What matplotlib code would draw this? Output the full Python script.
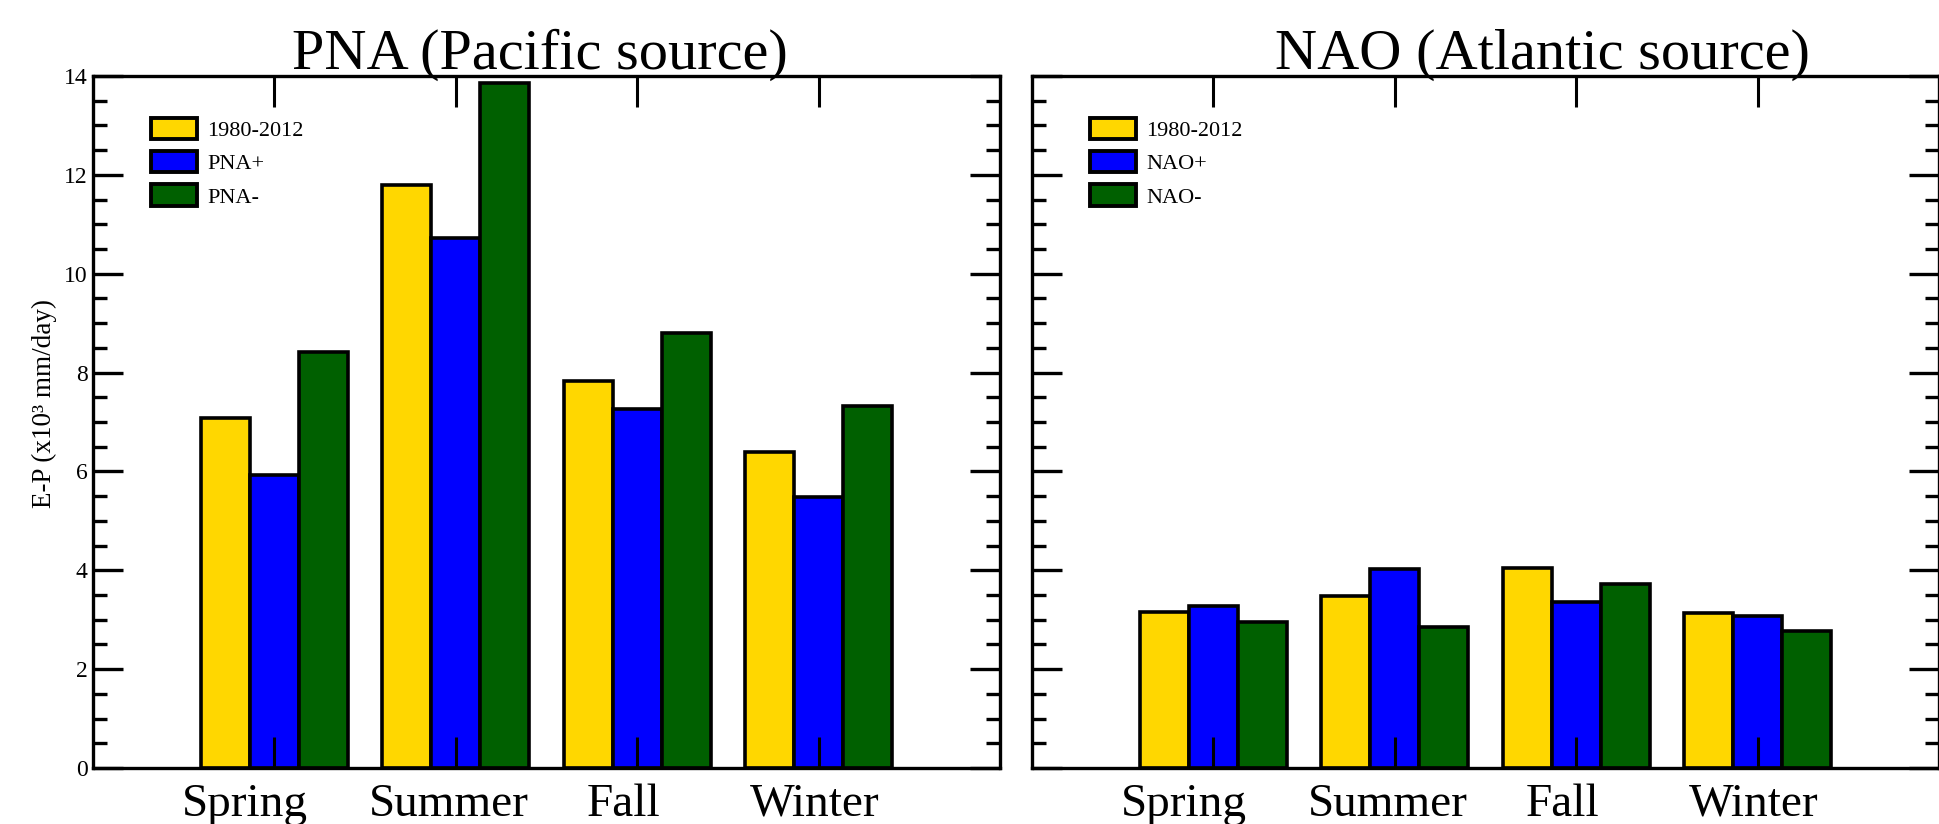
import numpy as np
import matplotlib
matplotlib.use("Agg")
import matplotlib.pyplot as plt
import matplotlib.transforms as mtransforms
from matplotlib.ticker import MultipleLocator

plt.rcParams["font.family"] = ["Liberation Serif", "DejaVu Serif"]

seasons = ["Spring", "Summer", "Fall", "Winter"]

# E-P (x10^3 mm/day)
pna_clim = [7.08, 11.80, 7.82, 6.39]
pna_pos = [5.93, 10.73, 7.27, 5.49]
pna_neg = [8.41, 13.86, 8.80, 7.33]

nao_clim = [3.15, 3.48, 4.04, 3.14]
nao_pos = [3.27, 4.02, 3.35, 3.08]
nao_neg = [2.96, 2.86, 3.72, 2.78]

pna_labels = ["1980-2012", "PNA+", "PNA-"]
nao_labels = ["1980-2012", "NAO+", "NAO-"]

colors = ["#FFD700", "#0000FF", "#006000"]

# season labels in the original sit a little left of their ticks (points)
label_shift = [-21, -5, -10, -3]


def draw_panel(ax, series, labels, title, title_x, show_ylabels):
    x = np.arange(1, len(seasons) + 1)
    w = 0.27
    for i, (vals, lab, c) in enumerate(zip(series, labels, colors)):
        ax.bar(x + (i - 1) * w, vals, w, color=c, edgecolor="black",
               linewidth=2.6, label=lab)

    ax.set_xlim(0, 5)
    ax.set_ylim(0, 14)
    ax.set_xticks(x)
    ax.set_xticklabels(seasons)
    ax.yaxis.set_major_locator(MultipleLocator(2))
    ax.yaxis.set_minor_locator(MultipleLocator(0.5))

    for s in ax.spines.values():
        s.set_linewidth(2.4)
    ax.tick_params(axis="x", which="major", direction="in", top=True, bottom=True,
                   length=22.5, width=2.2, labelsize=34, pad=11)
    ax.tick_params(axis="y", which="major", direction="in", left=True, right=True,
                   length=21.6, width=2.4, labelsize=17, pad=4,
                   labelleft=show_ylabels)
    ax.tick_params(axis="y", which="minor", direction="in", left=True, right=True,
                   length=10, width=2.4)

    for lbl, dx in zip(ax.get_xticklabels(), label_shift):
        off = mtransforms.ScaledTranslation(dx / 72, 0, ax.figure.dpi_scale_trans)
        lbl.set_transform(lbl.get_transform() + off)

    ax.set_title(title, fontsize=42, x=title_x, pad=5)
    leg = ax.legend(loc="upper left", bbox_to_anchor=(0.064, 0.94), frameon=False,
                    fontsize=16, handlelength=2.07, handleheight=1.12,
                    labelspacing=0.45, handletextpad=0.45, borderpad=0,
                    borderaxespad=0)
    for h in leg.legend_handles:
        h.set_linewidth(2.8)


fig = plt.figure(figsize=(19.39, 8.24), dpi=100)
ax1 = fig.add_axes([0.04796, 0.06796, 0.46802, 0.83981])
ax2 = fig.add_axes([0.53223, 0.06796, 0.46802, 0.83981])

draw_panel(ax1, [pna_clim, pna_pos, pna_neg], pna_labels,
           "PNA (Pacific source)", 0.493, True)
draw_panel(ax2, [nao_clim, nao_pos, nao_neg], nao_labels,
           "NAO (Atlantic source)", 0.563, False)

ax1.set_ylabel("E-P (x10\u00b3 mm/day)", fontsize=19.5)
ax1.yaxis.set_label_coords(-0.04, 0.527)

fig.savefig("out.png", dpi=100)
